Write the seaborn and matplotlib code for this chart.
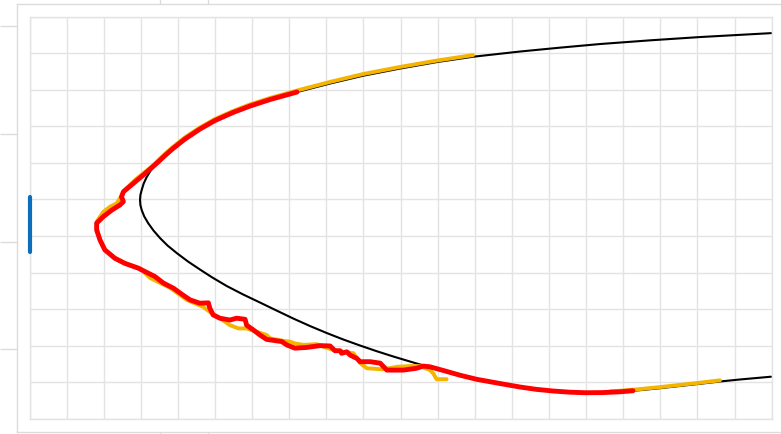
import matplotlib
matplotlib.use("Agg")
import matplotlib.pyplot as plt
import pandas as pd
import seaborn as sns

# Reference profile contour (black), from the upper trailing end round the nose
profile_x = [19.981, 18.067, 16.720, 15.373, 14.295, 13.217, 11.951, 10.981, 9.983, 8.986,
             8.097, 7.208, 6.481, 5.942, 5.484, 4.998, 4.594, 4.190, 3.867, 3.651,
             3.428, 3.274, 3.158, 3.077, 3.023, 2.988, 2.978,
             2.988, 3.023, 3.093, 3.201, 3.341, 3.516, 3.719, 3.966, 4.271, 4.594,
             4.918, 5.314, 5.753, 6.211, 6.661, 7.108, 7.558, 8.008, 8.456, 8.906,
             9.356, 9.803, 10.433, 11.242, 12.050, 12.678, 13.217, 13.648, 14.106, 14.564,
             14.969, 15.427, 15.912, 16.451, 16.989, 17.528, 18.067, 18.606, 19.145, 19.684,
             19.981]
profile_y = [10.550, 10.443, 10.353, 10.252, 10.153, 10.047, 9.904, 9.759, 9.581, 9.384,
             9.171, 8.938, 8.733, 8.555, 8.378, 8.159, 7.926, 7.653, 7.393, 7.201,
             6.982, 6.804, 6.613, 6.435, 6.257, 6.120, 5.984,
             5.847, 5.710, 5.532, 5.346, 5.149, 4.944, 4.739, 4.534, 4.301, 4.082,
             3.869, 3.631, 3.401, 3.179, 2.958, 2.741, 2.536, 2.345, 2.167, 2.003,
             1.847, 1.702, 1.510, 1.283, 1.078, 0.963, 0.867, 0.804, 0.758, 0.725,
             0.711, 0.714, 0.736, 0.780, 0.834, 0.895, 0.955, 1.018, 1.073, 1.122,
             1.149]

# Measured trace, run 1 (yellow): upper surface down round the nose
run1_x = [11.951, 10.981, 9.983, 8.986, 8.097, 7.208, 6.481, 5.942, 5.484, 4.998,
          4.594, 4.190, 3.867, 3.651, 3.29, 2.84, 2.57, 2.35, 2.17, 1.99,
          1.81, 1.81, 1.85, 1.90, 2.03, 2.30, 2.57, 2.98, 3.25, 3.79,
          4.24, 4.68, 4.91, 5.13, 5.40, 5.63, 5.85, 6.12, 6.39, 6.48,
          6.84, 7.02, 7.15, 7.38, 7.74, 7.92, 8.19, 8.46, 8.73, 8.91,
          9.09, 9.53, 9.90, 10.25, 10.52, 10.79, 10.88, 10.97, 11.24]
run1_y = [9.950, 9.800, 9.625, 9.430, 9.215, 8.980, 8.775, 8.600, 8.420, 8.200,
          7.970, 7.700, 7.440, 7.250, 6.90, 6.53, 6.26, 5.89, 5.80, 5.66,
          5.39, 5.25, 5.07, 4.89, 4.62, 4.40, 4.26, 4.11, 3.85, 3.58,
          3.25, 3.06, 2.88, 2.75, 2.56, 2.47, 2.47, 2.38, 2.29, 2.20,
          2.13, 2.11, 2.06, 2.02, 2.04, 1.97, 1.88, 1.83, 1.79, 1.52,
          1.38, 1.35, 1.42, 1.44, 1.44, 1.33, 1.24, 1.08, 1.08]

# Measured trace, run 1 (yellow): lower surface tail
run1_tail_x = [15.643, 15.912, 16.451, 16.989, 17.528, 18.067, 18.606]
run1_tail_y = [0.750, 0.765, 0.810, 0.865, 0.925, 0.985, 1.050]

# Measured trace, run 2 (red)
run2_x = [7.208, 6.481, 5.942, 5.484, 4.998, 4.594, 4.190, 3.867, 3.651, 3.43,
          3.07, 2.80, 2.53, 2.48, 2.53, 2.44, 2.22, 1.99, 1.81, 1.81,
          1.90, 2.03, 2.30, 2.57, 2.93, 3.38, 3.61, 3.88, 4.14, 4.33,
          4.59, 4.82, 4.86, 4.95, 5.13, 5.40, 5.58, 5.81, 5.85, 6.03,
          6.21, 6.39, 6.80, 6.93, 7.15, 7.47, 7.83, 8.10, 8.23, 8.37,
          8.41, 8.55, 8.64, 8.82, 8.91, 9.18, 9.45, 9.63, 10.07, 10.43,
          10.61, 10.79, 11.15, 11.60, 12.050, 12.678, 13.217, 13.648, 14.106, 14.564,
          14.969, 15.427, 15.912, 16.262]
run2_y = [8.938, 8.733, 8.555, 8.378, 8.159, 7.926, 7.653, 7.393, 7.201, 6.99,
          6.67, 6.44, 6.21, 6.07, 5.94, 5.85, 5.71, 5.53, 5.35, 5.16,
          4.89, 4.62, 4.39, 4.25, 4.12, 3.89, 3.71, 3.57, 3.38, 3.25,
          3.16, 3.17, 3.02, 2.84, 2.75, 2.70, 2.75, 2.72, 2.56, 2.43,
          2.29, 2.17, 2.11, 2.02, 1.93, 1.95, 2.00, 1.99, 1.86, 1.86,
          1.79, 1.83, 1.74, 1.65, 1.56, 1.56, 1.52, 1.33, 1.33, 1.38,
          1.44, 1.42, 1.32, 1.19, 1.078, 0.963, 0.867, 0.804, 0.758, 0.725,
          0.711, 0.714, 0.736, 0.765]

# Position marker on the left edge (blue)
marker_x = [0.02, 0.02]
marker_y = [4.57, 6.07]

GRID = "#e3e3e3"
FRAME = "#dcdcdc"

sns.set_theme(style="whitegrid")
plt.rcParams["lines.solid_capstyle"] = "round"
plt.rcParams["lines.solid_joinstyle"] = "round"

W, H = 781, 434
fig = plt.figure(figsize=(W / 100, H / 100), dpi=100)
fig.patch.set_facecolor("white")

# Outer panel frame with its tick stubs
frame = fig.add_axes([16.5 / W, 1.7 / H, 1.0, 427.8 / H], zorder=0)
frame.set_facecolor("white")
frame.grid(False)
frame.set_xlim(0, 1)
frame.set_ylim(0, 1)
frame.set_xticks([0.1837, 0.2448])
frame.set_yticks([0.1947, 0.4460, 0.6973, 0.9497])
frame.tick_params(axis="x", which="both", top=True, bottom=True, direction="out",
                  length=3.3, width=1, color=FRAME, labelbottom=False, labeltop=False)
frame.tick_params(axis="y", which="both", left=True, right=False, direction="out",
                  length=11.9, width=1, color=FRAME, labelleft=False)
for s in frame.spines.values():
    s.set_color(FRAME)
    s.set_linewidth(1)

# Main plotting area
ax = fig.add_axes([29.5 / W, 15.3 / H, 742.2 / W, 402 / H], zorder=1)
ax.set_facecolor("white")
ax.set_xlim(0, 20)
ax.set_ylim(0, 11)
ax.set_xticks(range(21))
ax.set_yticks(range(12))
ax.grid(True, color=GRID, linewidth=1)
ax.tick_params(length=0, labelbottom=False, labelleft=False)
for s in ax.spines.values():
    s.set_color(GRID)
    s.set_linewidth(1)

profile = pd.DataFrame({"x": profile_x, "y": profile_y})
run1 = pd.DataFrame({"x": run1_x, "y": run1_y})
run1_tail = pd.DataFrame({"x": run1_tail_x, "y": run1_tail_y})
run2 = pd.DataFrame({"x": run2_x, "y": run2_y})

sns.lineplot(data=profile, x="x", y="y", sort=False, estimator=None,
             color="black", linewidth=1.5, ax=ax)
sns.lineplot(data=run1, x="x", y="y", sort=False, estimator=None,
             color="#f4b400", linewidth=2.8, ax=ax)
sns.lineplot(data=run1_tail, x="x", y="y", sort=False, estimator=None,
             color="#f4b400", linewidth=2.8, ax=ax)
sns.lineplot(data=run2, x="x", y="y", sort=False, estimator=None,
             color="#ff0000", linewidth=3.5, ax=ax)

ax.plot(marker_x, marker_y, color="#0b6ebd", linewidth=3, clip_on=False, zorder=5)

ax.set_xlabel("")
ax.set_ylabel("")
fig.savefig("out.png", dpi=100, facecolor="white")
